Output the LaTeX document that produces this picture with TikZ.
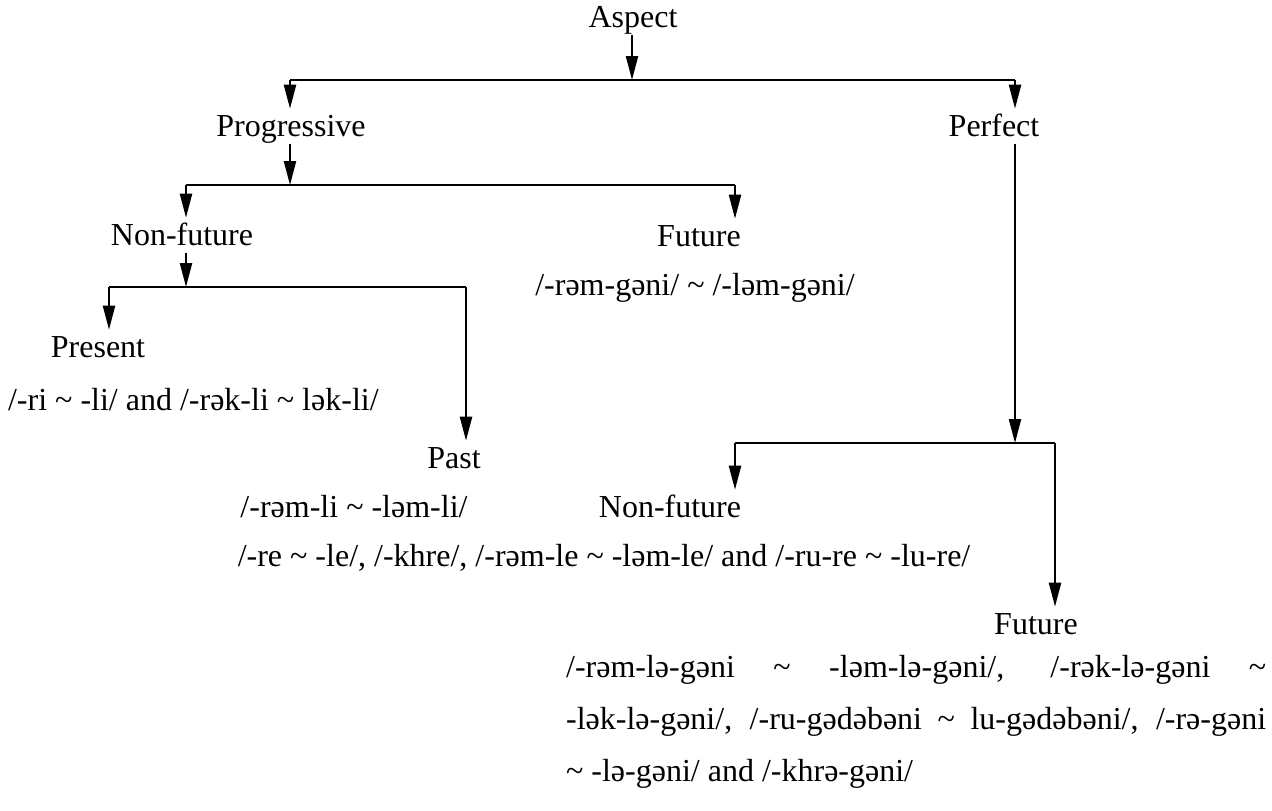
\documentclass[tikz,border=0pt]{standalone}
\usepackage{fontspec}
\setmainfont{Liberation Serif}
\usetikzlibrary{arrows.meta}
\newcommand{\tld}{\textasciitilde}
\tikzset{
  lbl/.style={anchor=base,inner xsep=0pt,inner ysep=2.2pt,text height=10.9pt,text depth=1pt,font=\fontsize{16pt}{19pt}\selectfont},
  form/.style={anchor=base,inner sep=0pt,font=\fontsize{16pt}{19pt}\selectfont},
  arr/.style={-{Triangle[length=12pt,width=6pt]}},
}
\begin{document}
\begin{tikzpicture}[x=0.5pt,y=-0.5pt,line width=1.1pt]
\useasboundingbox (0,0) rectangle (1272,810);
\node[lbl] (asp) at (633,27) {Aspect};
\node[lbl] (prog) at (291,136) {Progressive};
\node[lbl] (perf) at (994,136) {Perfect};
\node[lbl] (nfut) at (182,245) {Non-future};
\node[lbl] (fut) at (699,246) {Future};
\node[form] (futm) at (695,295) {/-rəm-gəni/ \tld{} /-ləm-gəni/};
\node[lbl] (pres) at (98,357) {Present};
\node[form,anchor=base west] (presm) at (7,410) {/-ri \tld{} -li/ and /-rək-li \tld{} lək-li/};
\node[lbl] (past) at (454,468) {Past};
\node[form] (pastm) at (354,517) {/-rəm-li \tld{} -ləm-li/};
\node[lbl] (nfutp) at (670,517) {Non-future};
\node[form] (nfutpm) at (604,566) {/-re \tld{} -le/, /-khre/, /-rəm-le \tld{} -ləm-le/ and /-ru-re \tld{} -lu-re/};
\node[lbl] (futp) at (1036,634) {Future};
\node[form,anchor=north west,align=left,font=\fontsize{16pt}{26pt}\selectfont] (futpm) at (565,654)
  {\makebox[350pt][s]{/-rəm-lə-gəni \tld{} -ləm-lə-gəni/, /-rək-lə-gəni \tld}\\
   \makebox[350pt][s]{-lək-lə-gəni/, /-ru-gədəbəni \tld{} lu-gədəbəni/, /-rə-gəni}\\
   \tld{} -lə-gəni/ and /-khrə-gəni/};

\coordinate (b1) at (632,80);
\coordinate (b1l) at (290,80);
\coordinate (b1r) at (1015,80);
\coordinate (b2) at (290,185);
\coordinate (b2l) at (186,185);
\coordinate (b2r) at (735,185);
\coordinate (b3) at (186,287);
\coordinate (b3l) at (109,287);
\coordinate (b3r) at (466,287);
\coordinate (b4) at (1015,443);
\coordinate (b4l) at (735,443);
\coordinate (b4r) at (1055,443);

\draw[arr] (asp.south -| b1) -- (b1);
\draw (b1l) -- (b1r);
\draw[arr] (b1l) -- (b1l |- prog.north);
\draw[arr] (b1r) -- (b1r |- perf.north);

\draw[arr] (prog.south -| b2) -- (b2);
\draw (b2l) -- (b2r);
\draw[arr] (b2l) -- (b2l |- nfut.north);
\draw[arr] (b2r) -- (b2r |- fut.north);

\draw[arr] (nfut.south -| b3) -- (b3);
\draw (b3l) -- (b3r);
\draw[arr] (b3l) -- (b3l |- pres.north);
\draw[arr] (b3r) -- (b3r |- past.north);

\draw[arr] (perf.south -| b4) -- (b4);
\draw (b4l) -- (b4r);
\draw[arr] (b4l) -- (b4l |- nfutp.north);
\draw[arr] (b4r) -- (b4r |- futp.north);
\end{tikzpicture}
\end{document}
